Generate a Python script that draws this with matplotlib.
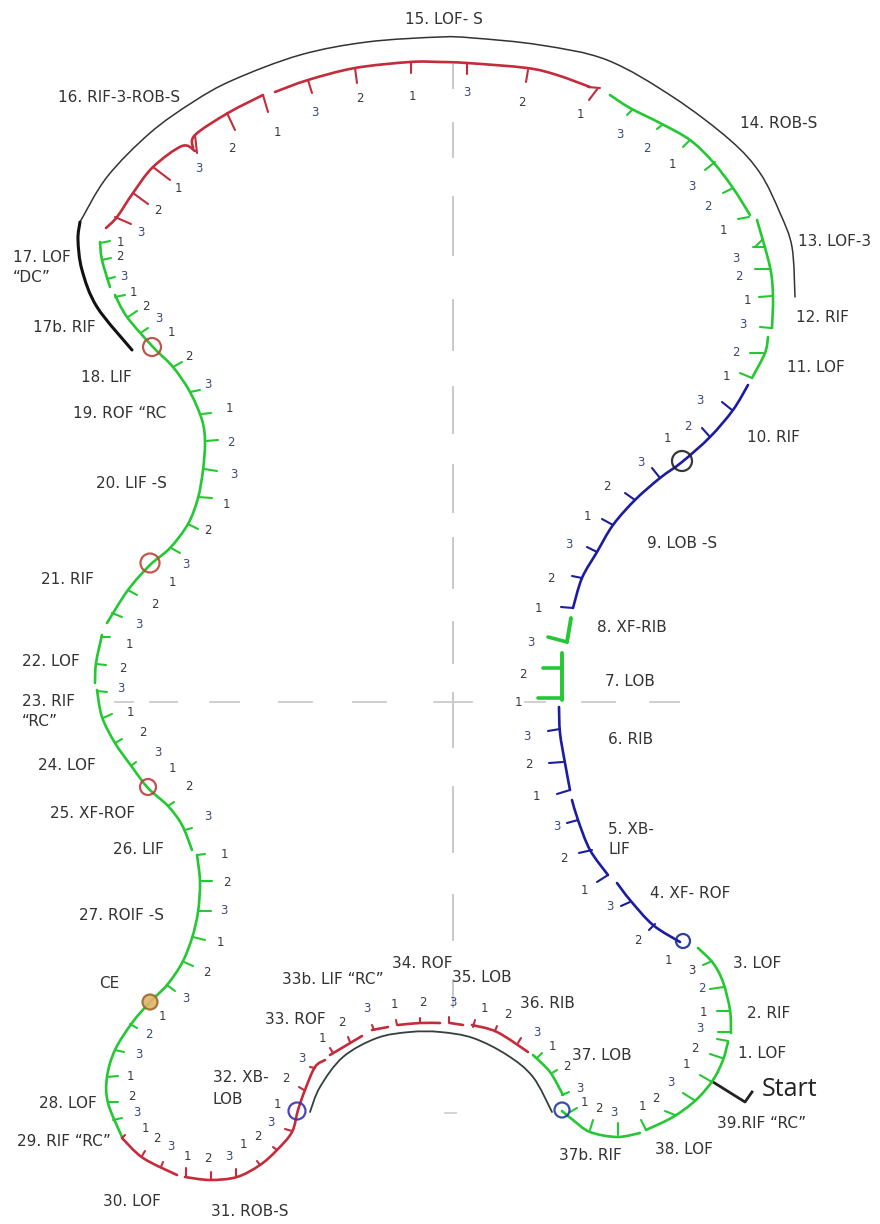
import matplotlib
matplotlib.use("Agg")
import matplotlib.pyplot as plt
from matplotlib.path import Path
from matplotlib.patches import PathPatch, Circle, Rectangle

# grey rink axes
axis_x = 453
axis_y = 702
axis_v_dashes = [(65, 88), (123, 157), (197, 255), (300, 350), (387, 433), (465, 512),
                 (538, 588), (622, 663), (693, 747), (787, 852), (895, 940), (980, 1007)]
axis_h_dashes = [(115, 133), (150, 177), (210, 239), (279, 312), (353, 386), (434, 472),
                 (525, 545), (582, 615), (650, 679)]
short_dash = [(445, 1113), (456, 1113)]

# black outline curves
black_top = [(795, 297), (792, 247), (780, 213), (760, 173), (730, 140), (673, 97), (607, 60),
             (540, 45), (473, 38), (440, 37), (367, 42), (300, 55), (233, 80), (193, 102),
             (150, 133), (107, 177), (80, 222)]
black_dc = [(80, 222), (78, 240), (82, 270), (97, 307), (132, 350)]
black_arch = [(310, 1112), (320, 1087), (343, 1057), (377, 1038), (410, 1032), (440, 1032),
              (473, 1038), (507, 1055), (533, 1077), (552, 1112)]
start_mark = [(713, 1082), (745, 1102), (752, 1092)]

# edges, one list of points per stroke
green_edges = [
    [(562, 1111), (573, 1120), (590, 1132), (617, 1137), (640, 1133)],
    [(646, 1130), (673, 1117), (696, 1100), (713, 1080), (723, 1060), (728, 1042)],
    [(731, 1033), (730, 1010), (723, 982), (713, 963), (698, 948)],
    [(752, 378), (765, 353), (768, 337)],
    [(772, 328), (773, 297), (770, 267), (757, 220)],
    [(750, 215), (733, 188), (713, 162), (690, 140), (660, 123), (630, 108), (610, 95)],
    [(100, 242), (102, 260), (110, 287)],
    [(115, 295), (127, 317), (153, 347), (173, 367), (190, 392), (202, 420), (205, 442),
     (203, 470), (198, 498), (188, 524), (170, 548), (150, 565), (128, 590), (107, 623)],
    [(102, 635), (96, 663), (95, 683)],
    [(97, 690), (102, 717), (115, 743), (132, 767), (148, 788), (168, 806), (182, 825), (192, 850)],
    [(197, 855), (200, 882), (198, 912), (192, 938), (182, 963), (167, 985), (150, 1002),
     (132, 1023), (115, 1050), (107, 1077), (108, 1103), (122, 1137)],
    [(533, 1055), (550, 1072), (563, 1095)],
]
green_thick_edges = [
    [(562, 700), (562, 653)],
    [(571, 618), (567, 642)],
]
blue_edges = [
    [(680, 942), (653, 925), (630, 900), (617, 883)],
    [(608, 875), (590, 850), (578, 820), (572, 800)],
    [(570, 790), (565, 763), (560, 733), (559, 707)],
    [(573, 608), (582, 578), (597, 552), (613, 525), (635, 500), (660, 478), (682, 462),
     (710, 437), (733, 410), (748, 385)],
]
red_edges = [
    [(590, 87), (557, 75), (527, 68), (467, 63), (440, 62), (410, 62), (355, 68), (308, 80), (275, 92)],
    [(263, 95), (228, 113), (195, 135), (193, 148)],
    [(195, 151), (182, 146), (153, 167), (133, 193), (117, 217), (106, 228)],
    [(122, 1138), (143, 1158), (177, 1175)],
    [(185, 1177), (210, 1180), (237, 1177), (260, 1165), (277, 1150), (292, 1132), (298, 1110),
     (305, 1090), (315, 1067), (325, 1060)],
    [(330, 1055), (362, 1036)],
    [(372, 1030), (388, 1027)],
    [(398, 1025), (420, 1023), (440, 1023)],
    [(450, 1023), (463, 1025)],
    [(472, 1025), (497, 1032), (528, 1052)],
]

# beat ticks: x0, y0, x1, y1
green_ticks = [
    (618, 1135, 618, 1123), (590, 1130, 593, 1120), (570, 1112, 577, 1108), (646, 1130, 641, 1120),
    (675, 1115, 665, 1111), (694, 1100, 683, 1093), (712, 1082, 700, 1075), (722, 1058, 710, 1054),
    (728, 1041, 717, 1039), (730, 1032, 718, 1032), (730, 1011, 717, 1011), (724, 987, 710, 989),
    (710, 962, 703, 965),
    (752, 378, 740, 373), (763, 353, 750, 353), (771, 328, 760, 327), (772, 296, 759, 297),
    (770, 269, 755, 269), (765, 247, 753, 247), (762, 240, 755, 247),
    (749, 217, 738, 219), (733, 188, 723, 193), (715, 162, 705, 170), (690, 140, 683, 147),
    (662, 125, 657, 129), (632, 110, 627, 115),
    (100, 243, 110, 241), (102, 260, 111, 258), (107, 279, 115, 277),
    (115, 297, 125, 295), (128, 317, 137, 311), (142, 332, 148, 328), (173, 367, 182, 362),
    (190, 392, 200, 390), (202, 414, 211, 413), (206, 441, 218, 440), (204, 469, 217, 471),
    (198, 497, 212, 498), (188, 524, 198, 529), (171, 548, 180, 553),
    (128, 590, 137, 595), (112, 613, 122, 617),
    (101, 637, 110, 637), (96, 664, 106, 665), (97, 691, 107, 692), (103, 718, 112, 714),
    (115, 743, 122, 739), (131, 766, 136, 762), (168, 806, 174, 802),
    (185, 830, 192, 828), (197, 855, 205, 854), (200, 881, 212, 881), (199, 911, 211, 911),
    (193, 937, 205, 940), (184, 962, 193, 966), (167, 985, 175, 991), (130, 1024, 137, 1028),
    (115, 1050, 124, 1052), (107, 1077, 118, 1076), (108, 1102, 118, 1102), (113, 1120, 122, 1118),
    (537, 1058, 542, 1053), (552, 1073, 557, 1070), (562, 1095, 569, 1092),
]
green_thick_ticks = [(562, 698, 538, 698), (560, 668, 543, 668), (567, 642, 548, 637)]
blue_ticks = [
    (560, 729, 548, 731), (563, 762, 549, 763), (570, 790, 557, 794),
    (578, 820, 567, 823), (592, 850, 579, 853), (608, 875, 597, 882),
    (630, 902, 621, 906), (655, 924, 649, 930),
    (573, 608, 561, 607), (582, 578, 572, 576), (597, 552, 587, 547), (613, 525, 602, 519),
    (635, 500, 625, 493), (660, 478, 652, 468), (710, 437, 702, 428), (732, 410, 722, 402),
]
red_ticks = [
    (598, 88, 589, 100), (600, 88, 588, 87), (528, 70, 526, 82), (467, 63, 467, 74), (411, 62, 411, 73),
    (355, 68, 357, 83), (308, 80, 312, 93),
    (263, 95, 268, 112), (227, 113, 235, 130), (195, 135, 197, 153),
    (153, 167, 170, 180), (133, 193, 148, 204), (115, 217, 131, 224),
    (122, 1138, 125, 1135), (142, 1156, 145, 1151), (161, 1167, 163, 1162),
    (186, 1177, 186, 1168), (211, 1179, 211, 1172), (236, 1177, 236, 1169), (260, 1165, 257, 1161),
    (277, 1150, 273, 1147), (292, 1131, 285, 1129), (304, 1090, 299, 1087), (315, 1068, 310, 1067),
    (333, 1053, 330, 1048), (350, 1042, 348, 1037), (374, 1030, 372, 1025),
    (397, 1025, 396, 1020), (420, 1023, 420, 1018), (449, 1023, 449, 1017),
    (473, 1027, 475, 1020), (495, 1031, 497, 1026), (518, 1043, 521, 1038),
]

# beat numbers
beat_dark = [  # the black 1s and greys
    ("3", 692, 970), ("1", 703, 1013), ("2", 695, 1048), ("1", 686, 1065), ("2", 656, 1098),
    ("1", 642, 1107), ("1", 584, 1102), ("2", 599, 1108), ("1", 552, 1047), ("2", 567, 1066),
    ("1", 484, 1008), ("2", 508, 1015), ("1", 668, 960), ("2", 638, 941), ("1", 584, 891),
    ("2", 564, 859), ("1", 536, 797), ("2", 529, 765), ("1", 518, 702), ("2", 523, 675),
    ("1", 538, 608), ("2", 551, 578), ("1", 587, 516), ("2", 607, 486), ("1", 667, 439),
    ("1", 726, 377), ("1", 747, 301), ("1", 723, 231), ("1", 672, 164), ("1", 580, 115),
    ("2", 522, 102), ("1", 412, 96), ("2", 360, 99), ("1", 277, 132), ("2", 232, 148),
    ("1", 178, 188), ("2", 158, 211), ("1", 120, 243), ("2", 120, 257), ("1", 133, 293),
    ("2", 146, 306), ("1", 171, 332), ("2", 189, 356), ("1", 229, 409), ("1", 226, 504),
    ("2", 208, 531), ("1", 172, 583), ("2", 155, 604), ("1", 129, 645), ("2", 123, 669),
    ("1", 130, 713), ("2", 143, 732), ("1", 172, 768), ("2", 189, 787), ("1", 224, 855),
    ("2", 227, 882), ("1", 220, 942), ("2", 207, 973), ("1", 162, 1017), ("1", 130, 1077),
    ("2", 132, 1096), ("1", 145, 1128), ("2", 157, 1138), ("1", 187, 1156), ("2", 208, 1159),
    ("1", 243, 1145), ("2", 258, 1137), ("1", 277, 1105), ("2", 286, 1078), ("1", 322, 1038),
    ("2", 342, 1023), ("1", 394, 1004), ("2", 423, 1003),
]
beat_blue = [  # the bluish ones
    ("2", 702, 988), ("3", 700, 1029), ("3", 671, 1082), ("3", 614, 1112), ("3", 580, 1088),
    ("3", 537, 1033), ("3", 453, 1002), ("3", 610, 907), ("3", 557, 827), ("3", 527, 737),
    ("3", 531, 642), ("3", 569, 544), ("3", 641, 462), ("2", 688, 426), ("3", 700, 400),
    ("2", 736, 352), ("3", 743, 324), ("2", 739, 277), ("3", 736, 259), ("2", 708, 207),
    ("3", 692, 186), ("2", 647, 149), ("3", 620, 134), ("3", 467, 92), ("3", 315, 112),
    ("3", 199, 168), ("3", 141, 233), ("3", 124, 277), ("3", 159, 319), ("3", 208, 384),
    ("2", 231, 442), ("3", 234, 474), ("3", 186, 564), ("3", 139, 624), ("3", 121, 688),
    ("3", 158, 753), ("3", 208, 817), ("3", 224, 911), ("3", 186, 998), ("2", 149, 1035),
    ("3", 139, 1055), ("3", 137, 1112), ("3", 171, 1147), ("3", 229, 1157), ("3", 271, 1123),
    ("3", 302, 1058), ("3", 367, 1009),
]

# step labels: text, left x, centre y
step_labels = [
    ("15. LOF- S", 405, 19), ("16. RIF-3-ROB-S", 58, 98), ("14. ROB-S", 740, 124),
    ("13. LOF-3", 798, 241), ("12. RIF", 796, 318), ("11. LOF", 787, 368), ("10. RIF", 747, 437),
    ("9. LOB -S", 647, 543), ("8. XF-RIB", 597, 627), ("7. LOB", 605, 681), ("6. RIB", 608, 739),
    ("5. XB-", 608, 830), ("LIF", 608, 850), ("4. XF- ROF", 650, 893), ("3. LOF", 733, 963),
    ("2. RIF", 747, 1013), ("1. LOF", 738, 1054), ("39.RIF “RC”", 717, 1123), ("38. LOF", 655, 1150),
    ("37b. RIF", 559, 1155), ("37. LOB", 572, 1056), ("36. RIB", 520, 1004), ("35. LOB", 452, 977),
    ("34. ROF", 392, 963), ("33b. LIF “RC”", 282, 979), ("33. ROF", 265, 1019), ("32. XB-", 213, 1078),
    ("LOB", 213, 1099), ("31. ROB-S", 211, 1212), ("30. LOF", 103, 1202), ("29. RIF “RC”", 17, 1141),
    ("28. LOF", 39, 1103), ("CE", 99, 984), ("27. ROIF -S", 79, 916), ("25. XF-ROF", 50, 813),
    ("24. LOF", 38, 766), ("23. RIF", 22, 701), ("“RC”", 22, 722), ("22. LOF", 22, 661),
    ("21. RIF", 41, 579), ("20. LIF -S", 96, 483), ("19. ROF “RC", 73, 413), ("18. LIF", 81, 377),
    ("17b. RIF", 33, 327), ("17. LOF", 13, 257), ("“DC”", 13, 278),
]

# centre of the ringed crossings: x, y, radius, ring colour, fill
rings = [
    (152, 347, 9, "#b8443c", "none"), (682, 461, 10, "#222222", "none"),
    (150, 563, 9.5, "#c0453a", "none"), (148, 787, 8, "#c23c40", "none"),
    (150, 1002, 7.5, "#9a6a30", "#e3b46a"), (297, 1111, 8.5, "#3c30b0", "none"),
    (562, 1110, 7.5, "#2038a8", "none"), (683, 941, 7, "#1c2c90", "none"),
]

GREEN = "#24c832"
BLUE = "#1c1ca0"
RED = "#c42c3c"
DARK = "#333333"


def smooth(points):
    # catmull-rom through the read points, drawn as bezier pieces
    if len(points) < 3:
        return Path(points)
    pts = [points[0]] + list(points) + [points[-1]]
    verts = [points[0]]
    codes = [Path.MOVETO]
    for i in range(1, len(pts) - 2):
        p0, p1, p2, p3 = pts[i - 1], pts[i], pts[i + 1], pts[i + 2]
        verts.append((p1[0] + (p2[0] - p0[0]) / 6, p1[1] + (p2[1] - p0[1]) / 6))
        verts.append((p2[0] - (p3[0] - p1[0]) / 6, p2[1] - (p3[1] - p1[1]) / 6))
        verts.append(p2)
        codes += [Path.CURVE4] * 3
    return Path(verts, codes)


def draw_edge(ax, points, color, lw):
    ax.add_patch(PathPatch(smooth(points), fill=False, edgecolor=color, lw=lw, capstyle="round", zorder=3))


def draw_ticks(ax, ticks, color, lw):
    for x0, y0, x1, y1 in ticks:
        ax.plot([x0, x1], [y0, y1], color=color, lw=lw, solid_capstyle="round", zorder=3)


fig = plt.figure(figsize=(8.8, 12.24), dpi=100)
ax = fig.add_axes([0, 0, 1, 1])
ax.set_xlim(0, 880)
ax.set_ylim(1224, 0)
ax.axis("off")

for y0, y1 in axis_v_dashes:
    ax.plot([axis_x, axis_x], [y0, y1], color="#c4c4c4", lw=1.3, zorder=1)
for x0, x1 in axis_h_dashes:
    ax.plot([x0, x1], [axis_y, axis_y], color="#cccccc", lw=1.3, zorder=1)
ax.plot([p[0] for p in short_dash], [p[1] for p in short_dash], color="#cccccc", lw=1.2, zorder=1)

draw_edge(ax, black_top, "#333333", 1.1)
draw_edge(ax, black_dc, "#111111", 2.2)
draw_edge(ax, black_arch, "#33403c", 1.3)
ax.plot([p[0] for p in start_mark], [p[1] for p in start_mark], color="#222222", lw=2, zorder=3)

for edge in green_edges:
    draw_edge(ax, edge, GREEN, 1.9)
for edge in green_thick_edges:
    draw_edge(ax, edge, GREEN, 2.8)
for edge in blue_edges:
    draw_edge(ax, edge, BLUE, 1.9)
for edge in red_edges:
    draw_edge(ax, edge, RED, 1.9)

draw_ticks(ax, green_ticks, GREEN, 1.5)
draw_ticks(ax, green_thick_ticks, GREEN, 2.6)
draw_ticks(ax, blue_ticks, BLUE, 1.5)
draw_ticks(ax, red_ticks, RED, 1.5)

for x, y, r, edge, face in rings:
    ax.add_patch(Circle((x, y), r, edgecolor=edge, facecolor=face, lw=1.6, alpha=0.9, zorder=4))

for txt, x, y in beat_dark:
    ax.text(x, y, txt, color="#3a3a3a", fontsize=8.5, ha="center", va="center", zorder=5)
for txt, x, y in beat_blue:
    ax.text(x, y, txt, color="#3a4a78", fontsize=8.5, ha="center", va="center", zorder=5)

for txt, x, y in step_labels:
    ax.text(x, y, txt, color=DARK, fontsize=11, ha="left", va="center", zorder=5)

# 26. LIF is cut off at the bottom in the picture
t = ax.text(113, 850, "26. LIF", color=DARK, fontsize=11, ha="left", va="center", zorder=5)
t.set_clip_path(Rectangle((100, 835), 80, 19, transform=ax.transData))
t.set_clip_on(True)

ax.text(762, 1090, "Start", color="#222222", fontsize=18, family="Open Sans", ha="left", va="center", zorder=5)

fig.savefig("out.png", dpi=100, facecolor="white")
